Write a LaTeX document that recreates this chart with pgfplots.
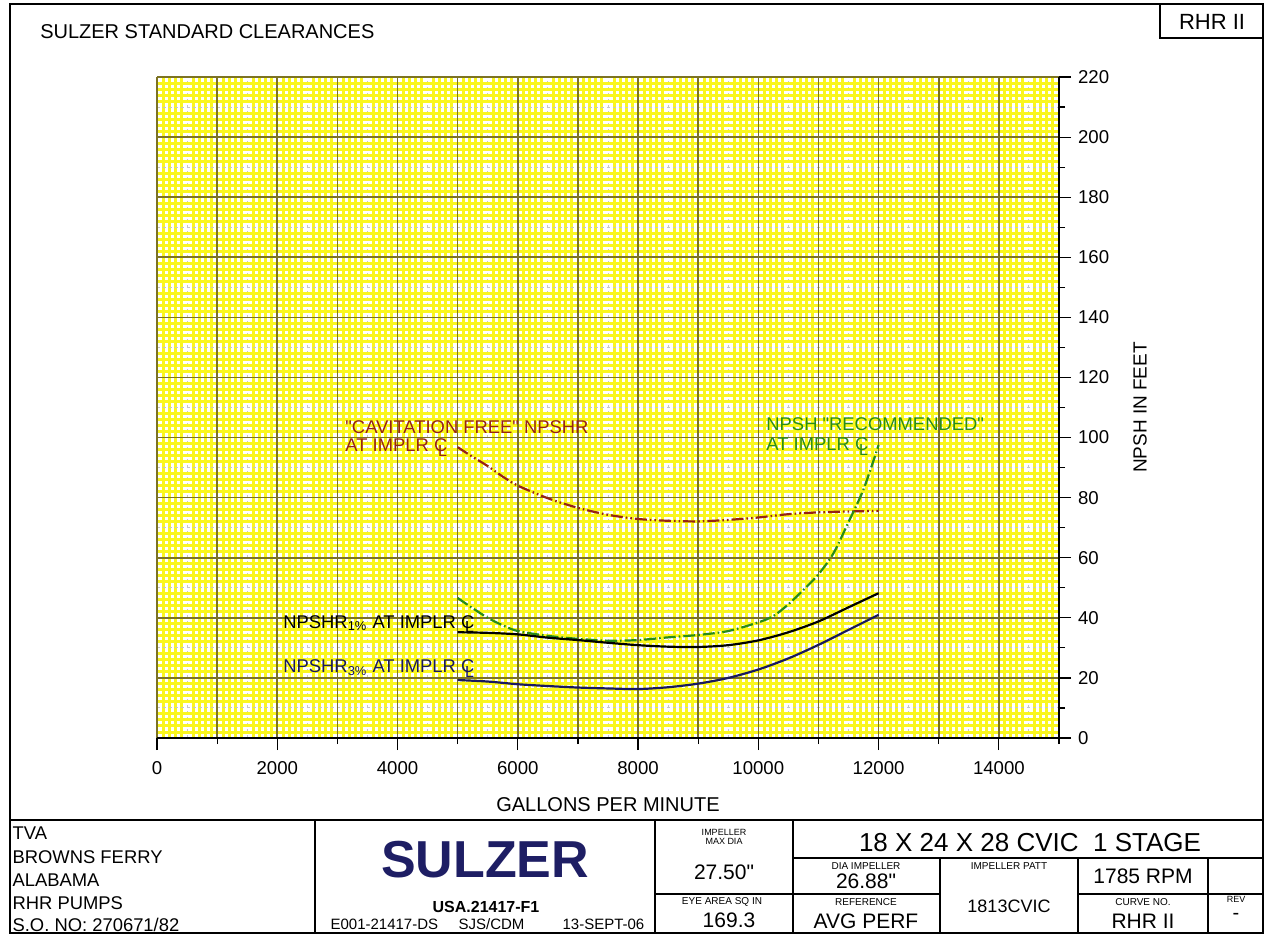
\documentclass[border=0pt]{standalone}
\usepackage{fontspec}
\setmainfont{Liberation Sans}
\usepackage{pgfplots}
\pgfplotsset{compat=1.18}

\definecolor{paperyellow}{RGB}{250,246,30}
\definecolor{gridolive}{RGB}{125,115,35}
\definecolor{cavred}{RGB}{150,35,20}
\definecolor{recgreen}{RGB}{40,140,25}
\definecolor{navyline}{RGB}{25,25,95}
\definecolor{sulzerblue}{RGB}{30,30,100}

\newcommand\CL{C\kern-0.5em\raisebox{-0.5ex}{\footnotesize L}}
\newcommand\q{\textquotedbl}
\tikzset{fs/.style={font=\fontsize{#1}{#1}\selectfont}}

\begin{document}
\begin{tikzpicture}
\path[use as bounding box] (0,0) rectangle (632.5pt,-467pt);
\pgfplotsset{paperaxis/.style={scale only axis, width=451pt, height=330.5pt,
  at={(78.5pt,-369pt)}, anchor=south west,
  xmin=0, xmax=15000, ymin=0, ymax=220}}

% graph paper background
\begin{axis}[paperaxis,
  scaled x ticks=false, scaled y ticks=false,
  xtick={0,500,...,15000}, ytick={0,10,...,220},
  minor x tick num=4, minor y tick num=4,
  grid=both,
  minor grid style={paperyellow, line width=1.5pt},
  major grid style={gray!45, dash pattern=on 1.5pt off 1.5pt, line width=0.5pt},
  xticklabels={}, yticklabels={},
  major tick length=0pt, minor tick length=0pt,
  axis line style={draw=none}, tick style={draw=none},
]
\end{axis}

% main axis
\begin{axis}[paperaxis,
  axis x line*=bottom, axis y line*=right,
  axis line style={black, line width=0.7pt},
  scaled x ticks=false,
  xtick={0,2000,...,16000}, minor x tick num=1,
  ytick={0,20,...,220}, minor y tick num=1,
  xmajorgrids=true, xminorgrids=true, ymajorgrids=true, yminorgrids=false,
  major grid style={gridolive, line width=0.8pt},
  minor grid style={gridolive, line width=0.8pt},
  tick align=outside, major tick length=6pt, minor tick length=3pt,
  tick style={black, line width=0.6pt},
  /pgf/number format/1000 sep={},
  /pgf/number format/assume math mode=true,
  ticklabel style={fs=9.3},
  xticklabel style={yshift=-2pt},
  xlabel={GALLONS PER MINUTE},
  xlabel style={fs=10, at={(axis description cs:0.5,-0.1)}, anchor=center},
  ylabel={NPSH IN FEET},
  ylabel style={fs=9.5, at={(axis description cs:1.09,0.5)}, anchor=center},
]
% "Cavitation free" NPSHR
\addplot[cavred, line width=1.1pt, smooth,
  dash pattern=on 6pt off 1.5pt on 0.8pt off 1.5pt on 0.8pt off 1.5pt] coordinates {
 (5000,96.8) (5200,94.2) (5500,90.5) (5750,87.0) (6000,84.0) (6500,79.8)
 (7000,76.6) (7500,74.3) (8000,72.9) (8500,72.3) (9000,72.1) (9500,72.6)
 (10000,73.4) (10500,74.5) (11000,75.1) (11500,75.4) (12000,75.6)};
% NPSH recommended
\addplot[recgreen, line width=1.1pt, smooth,
  dash pattern=on 6pt off 1.5pt on 0.8pt off 1.5pt] coordinates {
 (5000,46.6) (5250,43.2) (5500,40.0) (5750,37.5) (6000,35.6) (6500,34.0)
 (7000,33.0) (7500,32.4) (8000,32.6) (8500,33.5) (9000,34.3) (9500,35.6)
 (10000,38.5) (10250,40.6) (10500,44.5) (10750,49.3) (11000,54.5)
 (11250,61.5) (11500,71.9) (11750,82.8) (12000,97.5)};
% NPSHR 1%
\addplot[black, line width=1.1pt, smooth] coordinates {
 (5000,35.2) (5500,35.0) (6000,34.5) (6500,33.4) (7000,32.6) (7500,31.7)
 (8000,30.9) (8500,30.4) (9000,30.3) (9500,30.9) (10000,32.5) (10500,35.2)
 (11000,38.8) (11500,43.5) (12000,48.2)};
% NPSHR 3%
\addplot[navyline, line width=1.1pt, smooth] coordinates {
 (5000,19.3) (5500,18.8) (6000,17.9) (6500,17.3) (7000,16.8) (7500,16.5)
 (8000,16.3) (8500,16.9) (9000,18.1) (9500,20.0) (10000,22.8) (10500,26.5)
 (11000,31.0) (11500,36.0) (12000,41.0)};

\node[anchor=base west, text=cavred, fs=9.2, inner sep=0pt] at (axis cs:3127,101.5) {\q CAVITATION FREE\q{} NPSHR};
\node[anchor=base west, text=cavred, fs=9.2, inner sep=0pt] at (axis cs:3127,95.4) {AT IMPLR \CL};
\node[anchor=base west, text=recgreen, fs=9.2, inner sep=0pt] at (axis cs:10128,102.5) {NPSH \q RECOMMENDED\q};
\node[anchor=base west, text=recgreen, fs=9.2, inner sep=0pt] at (axis cs:10128,95.6) {AT IMPLR \CL};
\node[anchor=base west, text=black, fs=9.2, inner sep=0pt] at (axis cs:2095,36.6) {NPSHR\textsubscript{1\%} AT IMPLR \CL};
\node[anchor=base west, text=navyline, fs=9.2, inner sep=0pt] at (axis cs:2095,21.9) {NPSHR\textsubscript{3\%} AT IMPLR \CL};
\end{axis}

% frame and title block, in pixel units
\begin{scope}[x=0.5pt, y=-0.5pt, line width=0.6pt]
\draw (10,4) rectangle (1263,933);
\draw (1160,4) rectangle (1263,38);
\draw (10,820) -- (1263,820);
\draw (315,820) -- (315,933);
\draw (655,820) -- (655,933);
\draw (793,820) -- (793,933);
\draw (793,858) -- (1263,858);
\draw (655,894) -- (940,894);
\draw (1078,894) -- (1263,894);
\draw (940,858) -- (940,933);
\draw (1078,858) -- (1078,933);
\draw (1208,858) -- (1208,933);

\node[anchor=west, fs=10] at (33,32) {SULZER STANDARD CLEARANCES};
\node[fs=11] at (1212,22) {RHR II};

\node[anchor=west, fs=9.2, inner sep=0pt] at (12,833) {TVA};
\node[anchor=west, fs=9.2, inner sep=0pt] at (12,857) {BROWNS FERRY};
\node[anchor=west, fs=9.2, inner sep=0pt] at (12,880) {ALABAMA};
\node[anchor=west, fs=9.2, inner sep=0pt] at (12,903) {RHR PUMPS};
\node[anchor=west, fs=9.2, inner sep=0pt] at (12,925) {S.O. NO: 270671/82};

\node[fs=26, text=sulzerblue] at (485,860) {\bfseries SULZER};
\node[fs=8] at (486,907) {\bfseries USA.21417-F1};
\node[anchor=west, fs=7.5, inner sep=0pt] at (330,924) {E001-21417-DS};
\node[anchor=west, fs=7.5, inner sep=0pt] at (458,924) {SJS/CDM};
\node[anchor=west, fs=7.5, inner sep=0pt] at (562,924) {13-SEPT-06};

\node[fs=4.5, align=center, inner sep=0pt] at (724,837) {IMPELLER\\MAX DIA};
\node[fs=10.5] at (724,872) {27.50\q};
\node[fs=5, inner sep=0pt] at (722,902) {EYE AREA SQ IN};
\node[fs=10.5] at (729,920) {169.3};

\node[fs=13] at (1030,843) {18 X 24 X 28 CVIC\ \ 1 STAGE};
\node[fs=5, inner sep=0pt] at (866,866) {DIA IMPELLER};
\node[fs=10.5] at (866,881) {26.88\q};
\node[fs=5, inner sep=0pt] at (1009,866) {IMPELLER PATT};
\node[fs=9] at (1009,906) {1813CVIC};
\node[fs=10.5] at (1143,876) {1785 RPM};
\node[fs=5, inner sep=0pt] at (866,902) {REFERENCE};
\node[fs=10.5] at (866,921) {AVG PERF};
\node[fs=5, inner sep=0pt] at (1143,902) {CURVE NO.};
\node[fs=10.5] at (1143,921) {RHR II};
\node[fs=4.5, inner sep=0pt] at (1236,899) {REV};
\node[fs=10] at (1236,916) {-};
\end{scope}
\end{tikzpicture}
\end{document}
